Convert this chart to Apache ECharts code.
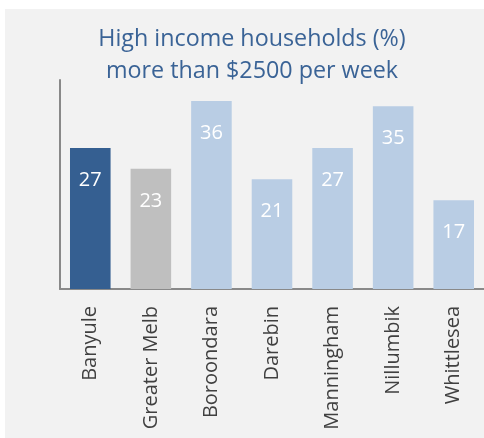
<!DOCTYPE html>
<html>
<head>
<meta charset="utf-8">
<script src="https://cdn.jsdelivr.net/npm/echarts@6/dist/echarts.min.js"></script>
<style>
html,body{margin:0;padding:0;background:#ffffff;}
#chart{width:484px;height:438px;}
</style>
</head>
<body>
<div id="chart"></div>
<script>
const categories = ['Banyule', 'Greater Melb', 'Boroondara', 'Darebin', 'Manningham', 'Nillumbik', 'Whittlesea'];
const values = [27, 23, 36, 21, 27, 35, 17];
const titleLines = ['High income households (%)', 'more than $2500 per week'];

const highlightColors = {0: '#355f91', 1: '#bfbfbf'};
const defaultColor = '#b9cde4';

const chart = echarts.init(document.getElementById('chart'), null, {renderer: 'canvas'});
chart.setOption({
  animation: false,
  backgroundColor: '#ffffff',
  graphic: [{
    type: 'rect',
    z: -10,
    left: 5, top: 9,
    shape: {width: 479, height: 429},
    style: {fill: '#f2f2f2'}
  }],
  title: {
    text: titleLines.join('\n'),
    left: 247,
    top: 18,
    textAlign: 'center',
    textStyle: {
      fontFamily: 'Open Sans',
      fontSize: 23.3,
      fontWeight: 'normal',
      lineHeight: 32,
      color: '#3a6396'
    }
  },
  grid: {left: 60, top: 80, width: 426, bottom: 149, containLabel: false},
  xAxis: {
    type: 'category',
    data: categories,
    axisLine: {show: true, lineStyle: {color: '#898989', width: 2}},
    axisTick: {show: false},
    axisLabel: {
      rotate: 90,
      margin: 17,
      interval: 0,
      padding: [6, 0, 0, 0],
      fontFamily: 'Open Sans',
      fontSize: 20,
      color: '#404040'
    }
  },
  yAxis: {
    type: 'value',
    min: 0,
    max: 40,
    axisLine: {show: true, lineStyle: {color: '#898989', width: 2}},
    axisTick: {show: false},
    axisLabel: {show: false},
    splitLine: {show: false}
  },
  series: [{
    type: 'bar',
    barCategoryGap: '33%',
    data: values.map((v, i) => ({
      value: v,
      itemStyle: {color: highlightColors[i] || defaultColor}
    })),
    label: {
      show: true,
      position: 'insideTop',
      distance: 19,
      offset: [0, 3],
      fontFamily: 'Open Sans',
      fontSize: 20,
      color: '#ffffff'
    }
  }]
});
</script>
</body>
</html>
